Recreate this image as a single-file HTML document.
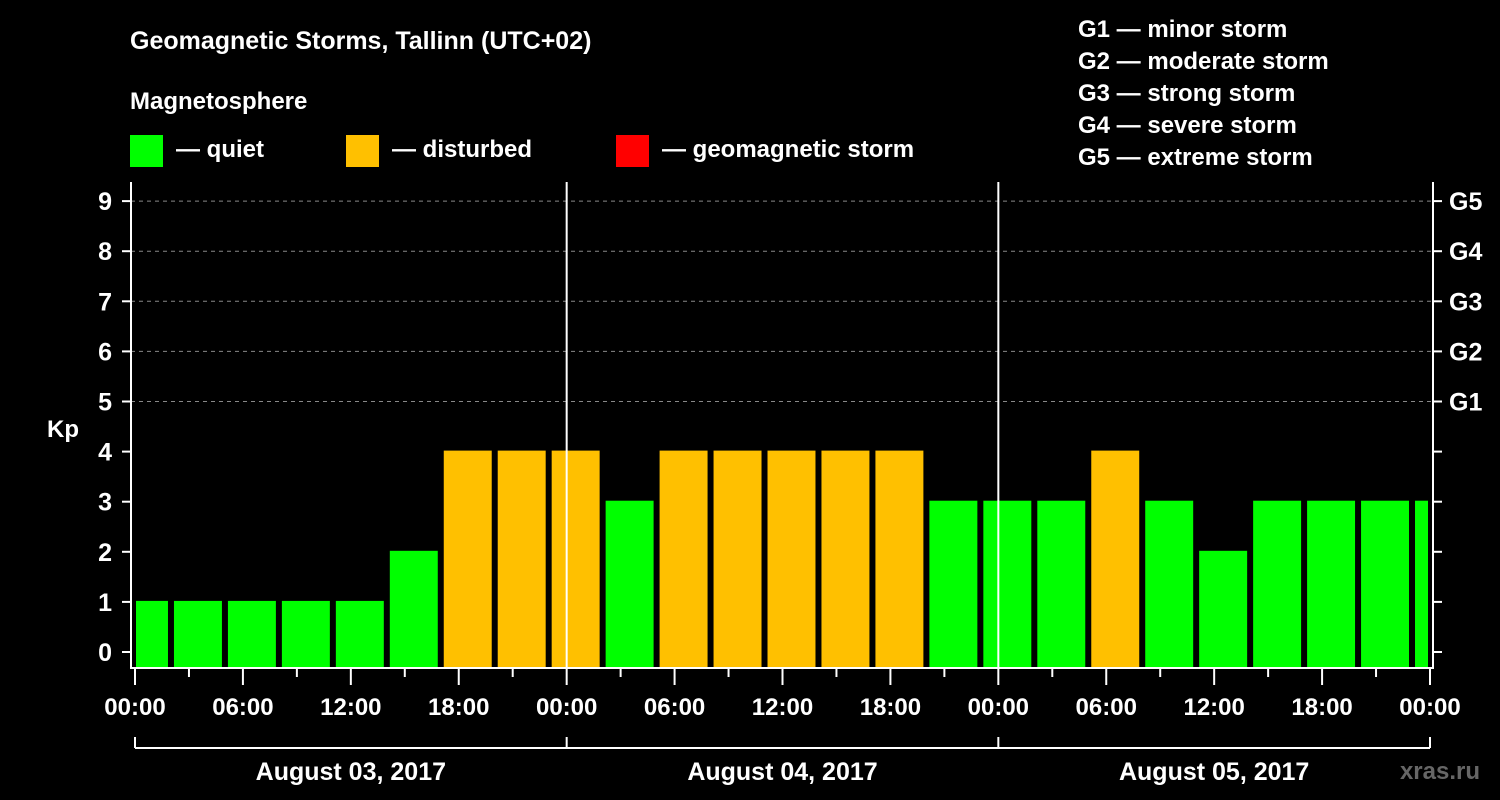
<!DOCTYPE html>
<html><head><meta charset="utf-8"><style>
body{margin:0;background:#000;}
svg{display:block;font-family:"Liberation Sans",Arial,sans-serif;font-weight:bold;}
</style></head><body>
<svg id="chart" width="1500" height="800" viewBox="0 0 1500 800">
<rect width="1500" height="800" fill="#000"/>
<text x="130" y="49" fill="#fff" font-size="25">Geomagnetic Storms, Tallinn (UTC+02)</text>
<text x="130" y="109" fill="#fff" font-size="24">Magnetosphere</text>
<g><rect x="130" y="135" width="33" height="32" fill="#00ff00"/><text x="176" y="157" fill="#fff" font-size="24">— quiet</text></g>
<g><rect x="346" y="135" width="33" height="32" fill="#ffc000"/><text x="392" y="157" fill="#fff" font-size="24">— disturbed</text></g>
<g><rect x="616" y="135" width="33" height="32" fill="#ff0000"/><text x="662" y="157" fill="#fff" font-size="24">— geomagnetic storm</text></g>
<g fill="#fff" font-size="24">
<text x="1078" y="37">G1 — minor storm</text><text x="1078" y="69">G2 — moderate storm</text><text x="1078" y="101">G3 — strong storm</text><text x="1078" y="133">G4 — severe storm</text><text x="1078" y="165">G5 — extreme storm</text>
</g>
<text x="63" y="437" fill="#fff" font-size="24" text-anchor="middle">Kp</text>
<text x="1480" y="779" fill="#666" font-size="24" text-anchor="end">xras.ru</text>
<defs><clipPath id="pc"><rect x="136" y="182" width="1292" height="486"/></clipPath></defs>
<g id="grid"></g><g id="bars" clip-path="url(#pc)"></g><g id="axes"></g>
</svg>
<script>
const kpValues=[1,1,1,1,1,2,4,4,4,3,4,4,4,4,4,3,3,3,4,3,2,3,3,3,3];
const yTicks=[0,1,2,3,4,5,6,7,8,9];
const gLabels=["G1","G2","G3","G4","G5"];
const xTickLabels=["00:00","06:00","12:00","18:00","00:00","06:00","12:00","18:00","00:00","06:00","12:00","18:00","00:00"];
const dateLabels=["August 03, 2017","August 04, 2017","August 05, 2017"];
const NS="http://www.w3.org/2000/svg";
const x0=135,x1=1430,hours=72;
const X=h=>x0+(x1-x0)*h/hours;
const Y=v=>652-v*50.1;
function mk(tag,attrs,parent,txt){const e=document.createElementNS(NS,tag);for(const k in attrs)e.setAttribute(k,attrs[k]);if(txt!==undefined)e.textContent=txt;document.getElementById(parent).appendChild(e);return e;}
for(let v=5;v<=9;v++){const l=mk('line',{x1:131,x2:1433,y1:Y(v),y2:Y(v),stroke:'#888','stroke-dasharray':'4,4'},'grid');

}
kpValues.forEach((v,i)=>{const c=3*i+0.5;const r=mk('rect',{x:X(c-4/3),y:Y(v)-1,width:X(c+4/3)-X(c-4/3),height:668-Y(v)+1,fill:v>=5?'#ff0000':(v>=4?'#ffc000':'#00ff00')},'bars');

});
const A='axes';
mk('line',{x1:131,x2:131,y1:182,y2:669,stroke:'#fff','stroke-width':2},A);
mk('line',{x1:1433,x2:1433,y1:182,y2:669,stroke:'#fff','stroke-width':2},A);
mk('line',{x1:130,x2:1434,y1:668,y2:668,stroke:'#fff','stroke-width':2},A);
[24,48].forEach(h=>mk('line',{x1:X(h),x2:X(h),y1:182,y2:668,stroke:'#fff','stroke-width':2},A));
yTicks.forEach(v=>{mk('line',{x1:122,x2:131,y1:Y(v),y2:Y(v),stroke:'#fff','stroke-width':2},A);
mk('line',{x1:1433,x2:1442,y1:Y(v),y2:Y(v),stroke:'#fff','stroke-width':2},A);
const t=mk('text',{x:112,y:Y(v)+9,fill:'#fff','font-size':25,'text-anchor':'end'},A,String(v));

});
gLabels.forEach((g,i)=>{const t=mk('text',{x:1449,y:Y(i+5)+9,fill:'#fff','font-size':25},A,g);

});
for(let h=0;h<=72;h+=3){mk('line',{x1:X(h),x2:X(h),y1:668,y2:h%6?677:685,stroke:'#fff','stroke-width':2},A);}
xTickLabels.forEach((s,i)=>{const t=mk('text',{x:X(i*6),y:715,fill:'#fff','font-size':24,'text-anchor':'middle'},A,s);

});
mk('line',{x1:X(0),x2:X(72),y1:748,y2:748,stroke:'#fff','stroke-width':2},A);
[0,24,48,72].forEach(h=>mk('line',{x1:X(h),x2:X(h),y1:737,y2:748,stroke:'#fff','stroke-width':2},A));
dateLabels.forEach((s,i)=>{const t=mk('text',{x:X(24*i+12),y:780,fill:'#fff','font-size':25,'text-anchor':'middle'},A,s);

});
</script>
</body></html>
